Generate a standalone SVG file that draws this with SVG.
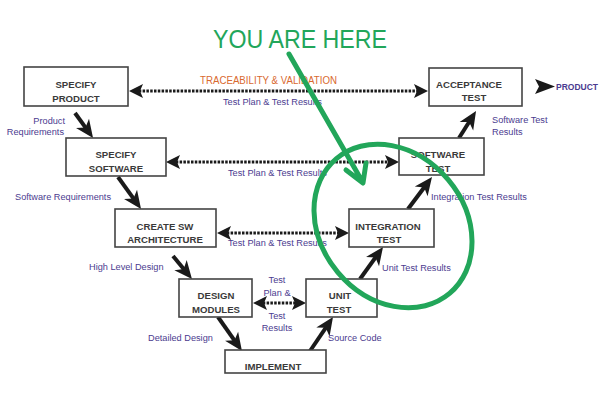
<svg xmlns="http://www.w3.org/2000/svg" width="609" height="402" viewBox="0 0 609 402">
<style>
.box{fill:#fff;stroke:#444;stroke-width:1.6}
.bl{font-family:"Liberation Sans",Arial,sans-serif;font-weight:bold;font-size:9.6px;fill:#3a3a3a;text-anchor:middle}
.lb{font-family:"Liberation Sans",Arial,sans-serif;font-size:9.2px;fill:#4b3b8f}
.solid{stroke:#1a1a1a;stroke-width:4;fill:none;marker-end:url(#sh)}
.dot{stroke:#1a1a1a;stroke-width:3;stroke-dasharray:2.5 1.3;fill:none;marker-end:url(#dh);marker-start:url(#dh)}
.green{stroke:#22a65a;fill:none;stroke-width:5;stroke-linecap:round;stroke-linejoin:round}
</style>
<defs>
<marker id="sh" markerUnits="userSpaceOnUse" markerWidth="20" markerHeight="18" refX="8" refY="8" orient="auto" overflow="visible">
<path d="M0,0 L18,8 L0,16 L5,8 Z" fill="#1a1a1a"/>
</marker>
<marker id="dh" markerUnits="userSpaceOnUse" markerWidth="16" markerHeight="16" refX="8" refY="7" orient="auto-start-reverse" overflow="visible">
<path d="M0,0 L14,7 L0,14 L3,7 Z" fill="#1a1a1a"/>
</marker>
</defs>
<rect width="609" height="402" fill="#fff"/>

<g id="connectors">
<line class="solid" x1="75" y1="113" x2="87.2" y2="129.9"/>
<line class="solid" x1="118" y1="177" x2="135.2" y2="200.9"/>
<line class="solid" x1="173" y1="256" x2="185.6" y2="271.3"/>
<line class="solid" x1="218" y1="317" x2="236.2" y2="342.8"/>
<line class="solid" x1="310" y1="351" x2="327.4" y2="325.3"/>
<line class="solid" x1="360" y1="279" x2="377.2" y2="255.1"/>
<line class="solid" x1="408" y1="209" x2="426" y2="185"/>
<line class="solid" x1="459" y1="138" x2="470.7" y2="119.5"/>
<line class="dot" x1="135" y1="91" x2="422" y2="91"/>
<line class="dot" x1="172" y1="162" x2="393" y2="162"/>
<line class="dot" x1="223" y1="233" x2="343" y2="233"/>
<line class="dot" x1="259" y1="303" x2="300" y2="303"/>
<path d="M535,79 L555,86.5 L535,94 L539,86.5 Z" fill="#1a1a1a"/>
</g>

<g id="labels">
<text x="200" y="84" font-family="Liberation Sans,Arial,sans-serif" font-size="10.5" fill="#d9692f" textLength="137" lengthAdjust="spacingAndGlyphs">TRACEABILITY &amp; VALIDATION</text>
<text class="lb" x="223" y="105">Test Plan &amp; Test Results</text>
<text class="lb" x="228" y="176">Test Plan &amp; Test Results</text>
<text class="lb" x="228" y="246">Test Plan &amp; Test Results</text>
<text class="lb" x="277" y="283" text-anchor="middle">Test</text>
<text class="lb" x="277" y="296" text-anchor="middle">Plan &amp;</text>
<text class="lb" x="277" y="319" text-anchor="middle">Test</text>
<text class="lb" x="277" y="331" text-anchor="middle">Results</text>
<text class="lb" x="65" y="124" text-anchor="end">Product</text>
<text class="lb" x="64" y="135" text-anchor="end">Requirements</text>
<text class="lb" x="15" y="200">Software Requirements</text>
<text class="lb" x="89" y="270">High Level Design</text>
<text class="lb" x="148" y="341">Detailed Design</text>
<text class="lb" x="328" y="341">Source Code</text>
<text class="lb" x="382" y="271">Unit Test Results</text>
<text class="lb" x="431" y="200">Integration Test Results</text>
<text class="lb" x="492" y="123">Software Test</text>
<text class="lb" x="492" y="135">Results</text>
<text x="556" y="90" font-family="Liberation Sans,Arial,sans-serif" font-weight="bold" font-size="8.5" fill="#4b3b8f">PRODUCT</text>
</g>

<g id="specify-product">
<rect class="box" x="24" y="67" width="104" height="39"/>
<text class="bl" x="76" y="88">SPECIFY</text>
<text class="bl" x="76" y="102">PRODUCT</text>
</g>
<g id="specify-software">
<rect class="box" x="66" y="138" width="100" height="38"/>
<text class="bl" x="116" y="158">SPECIFY</text>
<text class="bl" x="116" y="172">SOFTWARE</text>
</g>
<g id="create-sw-architecture">
<rect class="box" x="115" y="209" width="101" height="38"/>
<text class="bl" x="165" y="229.5">CREATE SW</text>
<text class="bl" x="165" y="243">ARCHITECTURE</text>
</g>
<g id="design-modules">
<rect class="box" x="179" y="279" width="73" height="38"/>
<text class="bl" x="216" y="299">DESIGN</text>
<text class="bl" x="216" y="313">MODULES</text>
</g>
<g id="implement">
<rect class="box" x="225" y="350" width="101" height="23"/>
<text class="bl" x="273" y="369.5">IMPLEMENT</text>
</g>
<g id="unit-test">
<rect class="box" x="306" y="279" width="71" height="38"/>
<text class="bl" x="340" y="299">UNIT</text>
<text class="bl" x="339" y="313">TEST</text>
</g>
<g id="integration-test">
<rect class="box" x="349" y="209" width="85" height="38"/>
<text class="bl" x="388" y="229.5">INTEGRATION</text>
<text class="bl" x="389" y="243">TEST</text>
</g>
<g id="software-test">
<rect class="box" x="399" y="138" width="85" height="37"/>
<text class="bl" x="438" y="158">SOFTWARE</text>
<text class="bl" x="438" y="171.5">TEST</text>
</g>
<g id="acceptance-test">
<rect class="box" x="429" y="68" width="93" height="38"/>
<text class="bl" x="469" y="88">ACCEPTANCE</text>
<text class="bl" x="474" y="101">TEST</text>
</g>

<g id="you-are-here">
<text x="213" y="48" font-family="Liberation Sans,Arial,sans-serif" font-size="25" fill="#22a65a" textLength="174" lengthAdjust="spacingAndGlyphs">YOU ARE HERE</text>
<path class="green" d="M289,54 L362,181 M346,170 L363,183 L366,163"/>
<ellipse class="green" cx="393" cy="226" rx="88" ry="72" transform="rotate(50 393 226)"/>
</g>
</svg>
